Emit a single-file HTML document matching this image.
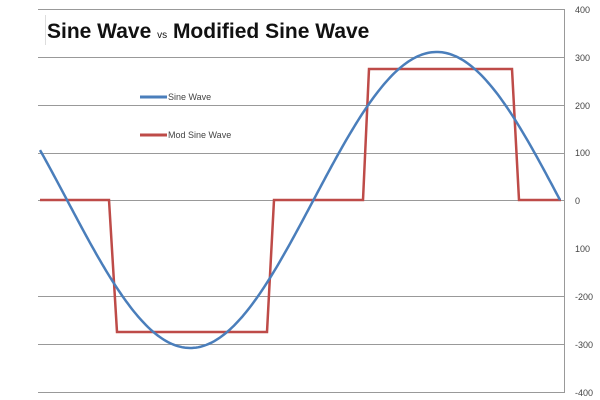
<!DOCTYPE html>
<html><head><style>body{margin:0;background:#fff}svg{display:block}</style></head><body>
<svg width="600" height="400" xmlns="http://www.w3.org/2000/svg" font-family="Liberation Sans, sans-serif">
<rect width="600" height="400" fill="#fff"/>
<g stroke="#999" stroke-width="1">
<line x1="38" y1="9.5" x2="565" y2="9.5"/>
<line x1="38" y1="57.5" x2="565" y2="57.5"/>
<line x1="38" y1="105.5" x2="565" y2="105.5"/>
<line x1="38" y1="153.5" x2="565" y2="153.5"/>
<line x1="38" y1="200.5" x2="565" y2="200.5"/>
<line x1="38" y1="296.5" x2="565" y2="296.5"/>
<line x1="38" y1="344.5" x2="565" y2="344.5"/>
<line x1="38" y1="392.5" x2="565" y2="392.5"/>
<line x1="564.5" y1="9" x2="564.5" y2="393"/>
</g>
<rect x="44" y="14" width="370" height="34" fill="#fff"/>
<line x1="45.5" y1="15" x2="45.5" y2="45" stroke="#ddd"/>
<text x="47" y="38" font-size="21" font-weight="bold" fill="#111">Sine Wave <tspan font-size="10" font-weight="normal">vs</tspan> Modified Sine Wave</text>
<g font-size="9" fill="#444">
<text x="575" y="13">400</text><text x="575" y="61">300</text><text x="575" y="109">200</text><text x="575" y="156">100</text>
<text x="575" y="204">0</text><text x="575" y="252">100</text><text x="575" y="300">-200</text><text x="575" y="348">-300</text><text x="575" y="396">-400</text>
</g>
<line x1="140" y1="97" x2="167" y2="97" stroke="#4a7ebb" stroke-width="3"/>
<text x="168" y="100" font-size="9" fill="#444">Sine Wave</text>
<line x1="140" y1="135" x2="167" y2="135" stroke="#be4b48" stroke-width="3"/>
<text x="168" y="138" font-size="9" fill="#444">Mod Sine Wave</text>
<polyline fill="none" stroke="#be4b48" stroke-width="2.5" points="40,200 109,200 117,332 267,332 274,200 363,200 369,69 512,69 519,200 561,200"/>
<polyline id="s" fill="none" stroke="#4a7ebb" stroke-width="2.5" points=""/>
<script>
var p=[];for(var x=40;x<=560;x+=2){var t=2*Math.PI*(x-313.5)/493;p.push(x+","+(200-148*Math.sin(t)).toFixed(1));}
document.getElementById("s").setAttribute("points",p.join(" "));
</script>
</svg>
</body></html>
